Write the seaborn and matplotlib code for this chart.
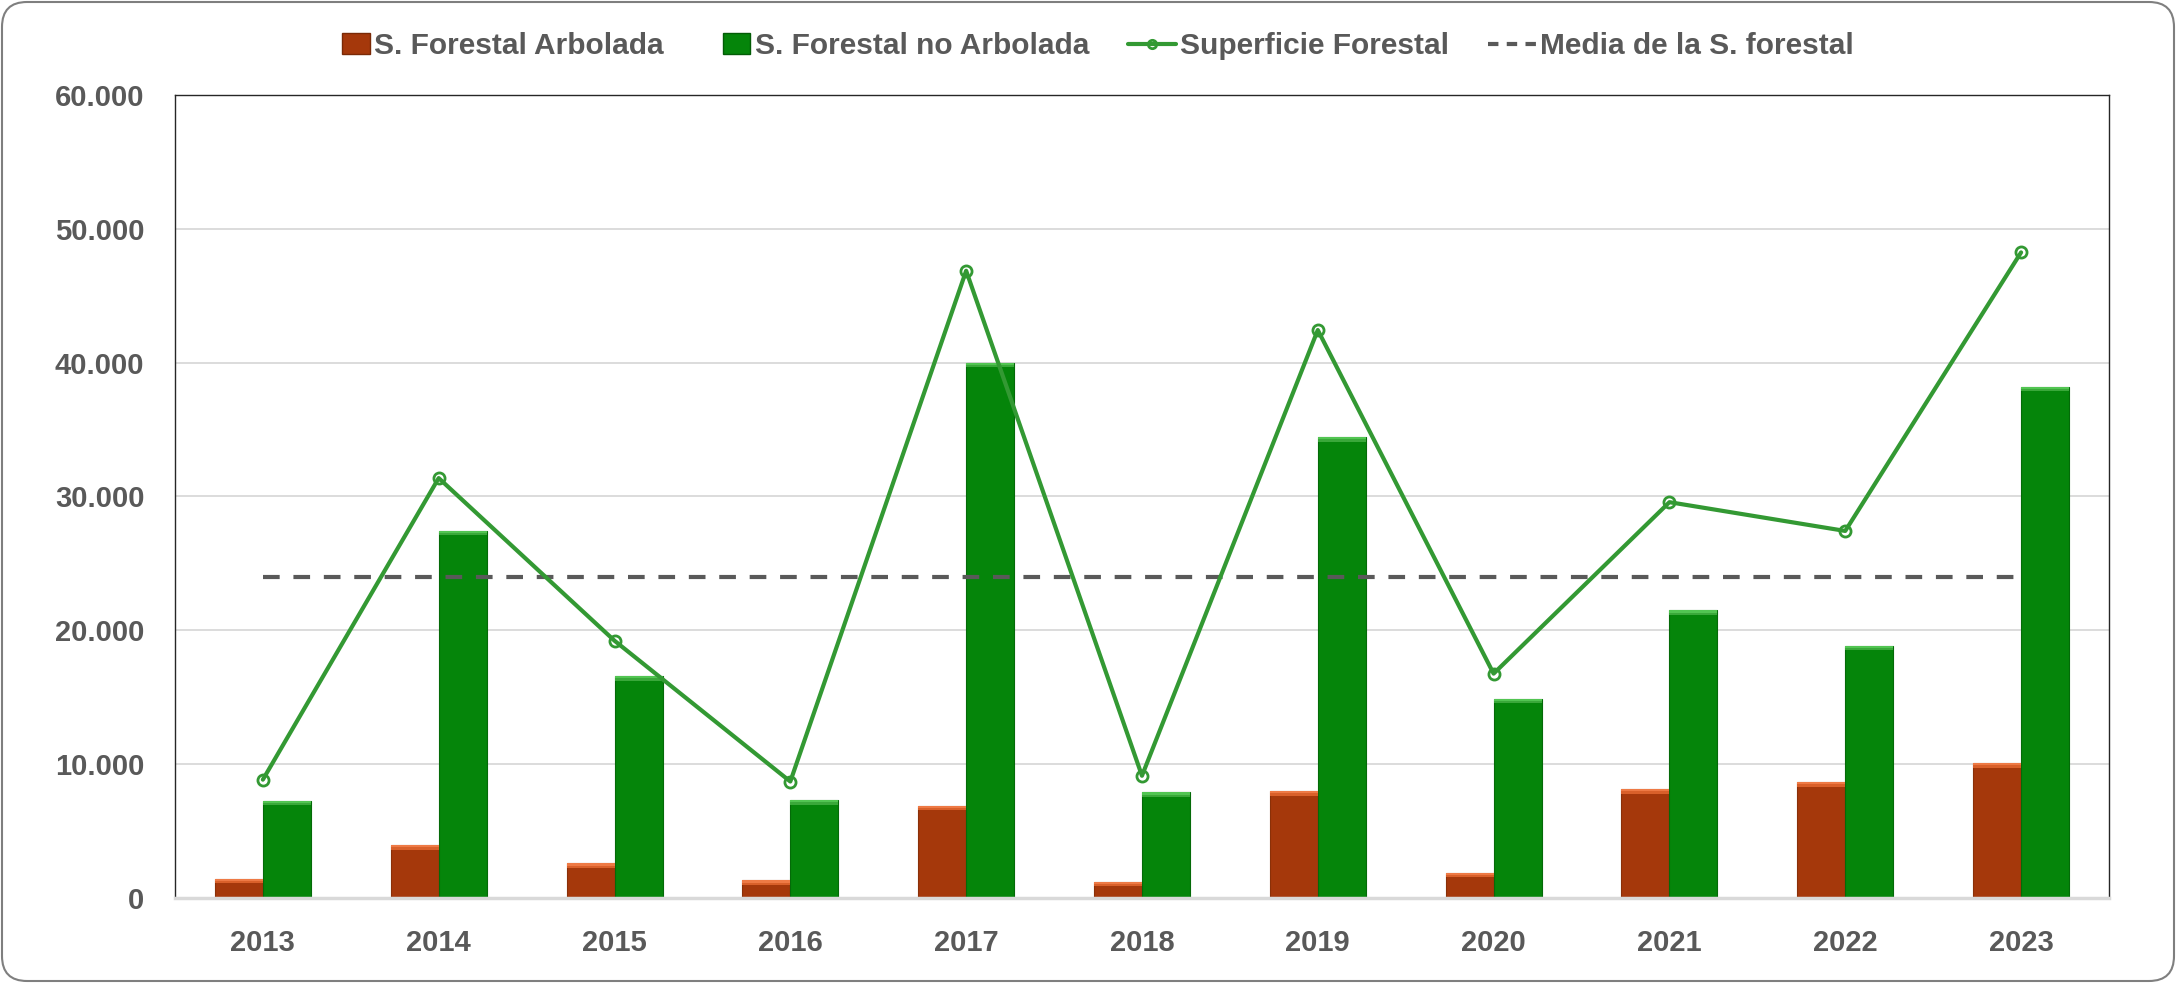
import numpy as np
import pandas as pd
import matplotlib.pyplot as plt
import seaborn as sns
from matplotlib.patches import FancyBboxPatch, Rectangle
from matplotlib.lines import Line2D
from matplotlib.legend_handler import HandlerPatch
from matplotlib.ticker import FuncFormatter, MultipleLocator
from matplotlib.transforms import IdentityTransform

# datos (ha)
years = ['2013', '2014', '2015', '2016', '2017', '2018', '2019', '2020', '2021', '2022', '2023']
arbolada = [1430, 3950, 2580, 1310, 6890, 1190, 7980, 1900, 8130, 8650, 10070]
no_arbolada = [7280, 27420, 16560, 7310, 40000, 7880, 34420, 14900, 21480, 18850, 38190]
superficie = [8840, 31370, 19220, 8700, 46860, 9130, 42430, 16760, 29570, 27420, 48230]
media = 23990

lab_arb = 'S. Forestal Arbolada'
lab_noarb = 'S. Forestal no Arbolada'
lab_sup = 'Superficie Forestal'
lab_media = 'Media de la S. forestal'

sns.set_style('white')
plt.rcParams['font.family'] = ['Liberation Sans', 'DejaVu Sans']
plt.rcParams['font.weight'] = 'bold'
grey = '#595959'

df = pd.DataFrame({'Año': years * 2,
                   'Superficie': arbolada + no_arbolada,
                   'Tipo': [lab_arb] * len(years) + [lab_noarb] * len(years)})

fig = plt.figure(figsize=(21.76, 9.83), dpi=100)
ax = fig.add_axes([0.0804, 0.0865, 0.8888, 0.817])

sns.barplot(data=df, x='Año', y='Superficie', hue='Tipo', palette=['#A5380B', '#05850A'],
            width=0.546, saturation=1, legend=False, ax=ax)

# bisel claro arriba de cada barra
bars = list(ax.patches)
for p in bars:
    is_green = p.get_facecolor()[1] > 0.4
    p.set_edgecolor('#046a08' if is_green else '#8a3008')
    p.set_linewidth(0.8)
    top = p.get_height()
    for k, (hgt, col) in enumerate([(330, '#3aa83a' if is_green else '#d9602a'),
                                    (160, '#52c552' if is_green else '#ee7a45')]):
        ax.add_patch(Rectangle((p.get_x(), top - hgt), p.get_width(), hgt,
                               color=col, lw=0, zorder=p.get_zorder() + 0.1 + k * 0.01))

sns.lineplot(x=np.arange(len(years)), y=superficie, color='#339933', lw=3, marker='o',
             markersize=8, markerfacecolor='none', markeredgecolor='#339933', markeredgewidth=2,
             legend=False, ax=ax, zorder=5)
ax.plot([0, len(years) - 1], [media, media], color=grey, lw=3, dashes=(4, 3.3), zorder=4)
if ax.get_legend() is not None:
    ax.get_legend().remove()

ax.set_ylim(0, 60000)
ax.set_xlim(-0.5, len(years) - 0.5)
ax.yaxis.set_major_locator(MultipleLocator(10000))
ax.yaxis.set_major_formatter(FuncFormatter(lambda v, pos: f'{int(v):,}'.replace(',', '.')))
ax.yaxis.grid(True, color='#d9d9d9', lw=1.3)
ax.set_axisbelow(True)
ax.set_xlabel('')
ax.set_ylabel('')
ax.tick_params(length=0, pad=22, labelsize=21, labelcolor=grey)
for s in ['left', 'top', 'right']:
    ax.spines[s].set_color('#262626')
    ax.spines[s].set_linewidth(1)
ax.spines['bottom'].set_color('#d9d9d9')
ax.spines['bottom'].set_linewidth(2.5)


def small_box(legend, orig_handle, xdescent, ydescent, width, height, fontsize):
    w = height * 1.3
    return Rectangle((width - w - xdescent, -ydescent), w, height)


handles = [Rectangle((0, 0), 1, 1, fc='#A5380B', ec='#7a2906'),
           Rectangle((0, 0), 1, 1, fc='#05850A', ec='#035c06'),
           Line2D([], [], color='#339933', lw=3, marker='o', markersize=6,
                  markerfacecolor='none', markeredgewidth=2),
           Line2D([], [], color=grey, lw=3, dashes=(2.5, 2))]
fig.legend(handles, [lab_arb, lab_noarb, lab_sup, lab_media], loc='center',
           bbox_to_anchor=(0.5, 0.953), ncol=4, frameon=False, fontsize=21.5,
           labelcolor=grey, handlelength=1.6, handletextpad=0.15, columnspacing=1.3,
           handler_map={Rectangle: HandlerPatch(patch_func=small_box)})

fig.add_artist(FancyBboxPatch((2, 2), 2172, 979, boxstyle='round,pad=0,rounding_size=25',
                              transform=IdentityTransform(), fill=False, ec='#7f7f7f', lw=1.5))

fig.savefig('out.png', dpi=100)
